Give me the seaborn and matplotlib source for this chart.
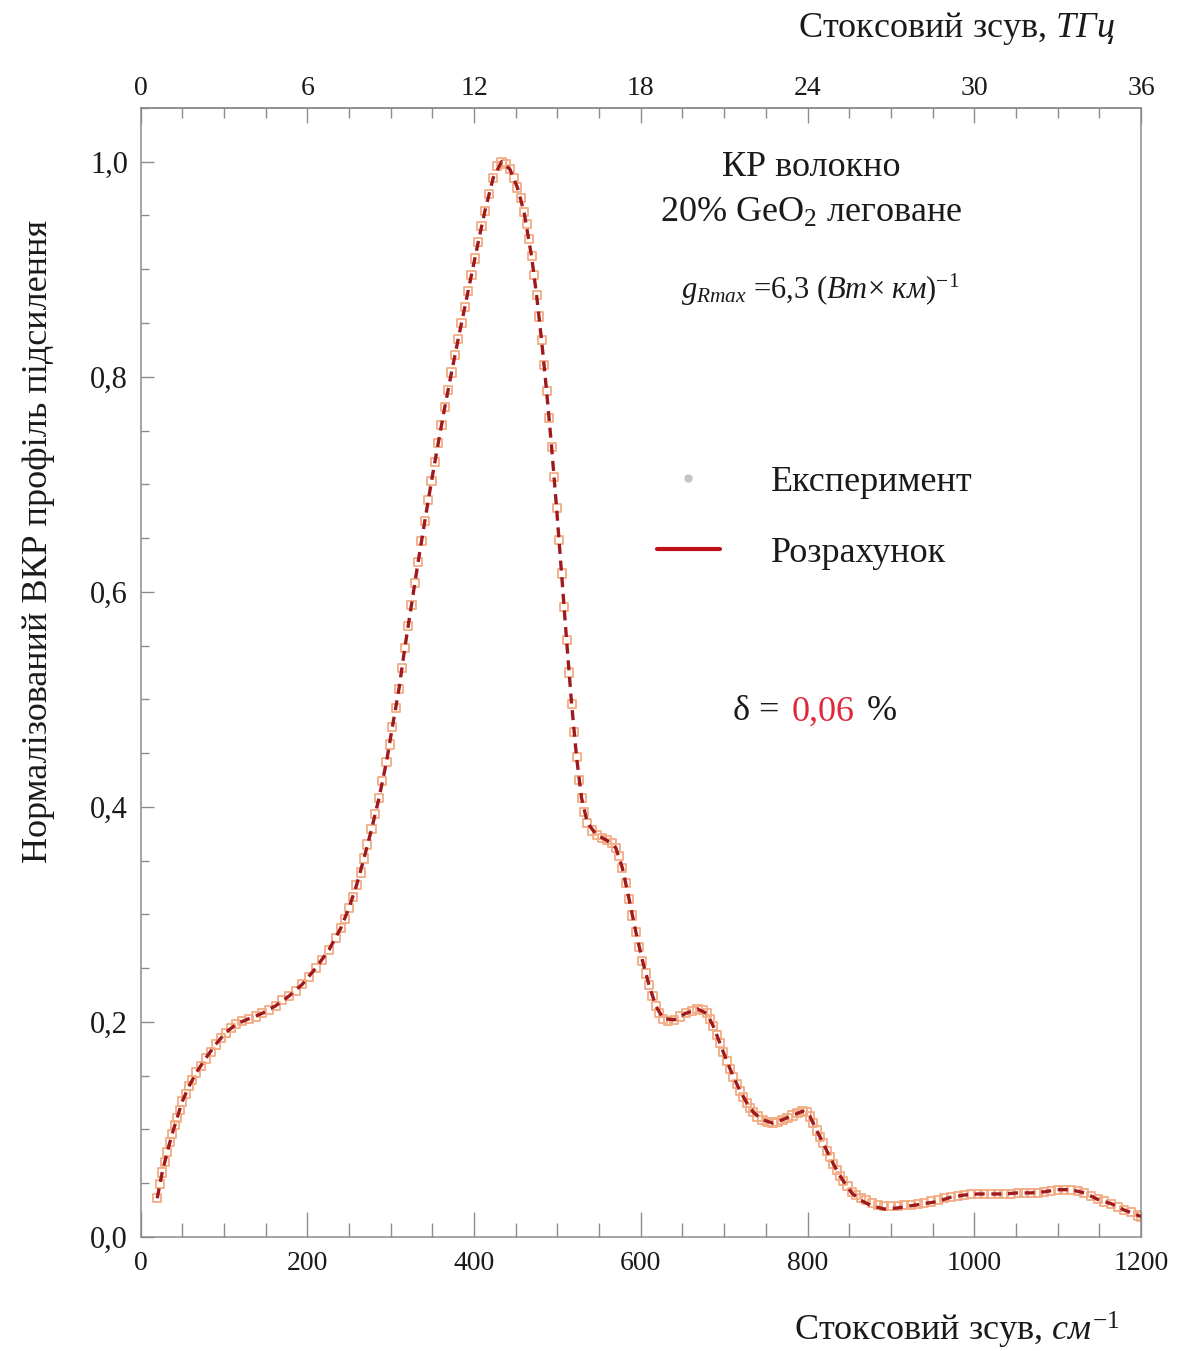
import matplotlib
matplotlib.use("Agg")
import matplotlib.pyplot as plt
from matplotlib.lines import Line2D
from matplotlib.ticker import MultipleLocator, FuncFormatter
from matplotlib.offsetbox import TextArea, HPacker, AnchoredOffsetbox
import seaborn as sns

# Measured normalised Raman gain profile (Stokes shift in cm^-1)
shift_exp = [20, 23, 26, 29, 32, 35, 38, 41, 44, 47, 50, 54, 58, 62, 67, 72, 78, 84, 90, 96,
             102, 108, 115, 122, 130, 138, 146, 154, 162, 170, 178, 186, 194, 202, 210, 218,
             226, 234, 240, 245, 250, 255, 259, 264, 268, 272, 277, 281, 286, 290, 295, 299,
             302, 306, 310, 314, 317, 321, 325, 329, 333, 337, 341, 345, 349, 353, 357, 361,
             365, 369, 373, 377, 381, 385, 389, 393, 397, 401, 405, 409, 413, 418, 423, 428,
             433, 438, 443, 448, 452, 456, 460, 463, 466, 469, 472, 475, 478, 481, 484, 487,
             490, 493, 496, 499, 502, 505, 508, 511, 514, 517, 520, 523, 526, 529, 532, 536,
             541, 547, 553, 559, 565, 570, 574, 578, 582, 586, 590, 594, 598, 602, 606, 610,
             614, 618, 622, 627, 633, 640, 647, 654, 661, 668, 674, 679, 683, 687, 691, 695,
             699, 703, 707, 711, 715, 719, 723, 727, 731, 735, 740, 746, 752, 758, 764, 770,
             776, 782, 788, 794, 799, 803, 807, 811, 815, 819, 823, 827, 831, 835, 839, 843,
             848, 853, 858, 864, 870, 877, 884, 892, 900, 908, 916, 924, 932, 940, 948, 956,
             964, 972, 980, 988, 996, 1004, 1012, 1020, 1028, 1036, 1044, 1052, 1060, 1068,
             1076, 1084, 1092, 1100, 1108, 1116, 1124, 1132, 1140, 1148, 1156, 1164, 1172,
             1180, 1188, 1196, 1200]
gain_exp = [0.036, 0.049, 0.060, 0.070, 0.079, 0.088, 0.096, 0.104, 0.111, 0.118, 0.126,
            0.133, 0.140, 0.146, 0.153, 0.159, 0.166, 0.172, 0.179, 0.185, 0.190, 0.194,
            0.198, 0.201, 0.203, 0.205, 0.208, 0.211, 0.215, 0.220, 0.224, 0.229, 0.235,
            0.242, 0.250, 0.258, 0.267, 0.278, 0.287, 0.296, 0.306, 0.316, 0.327, 0.339,
            0.352, 0.365, 0.379, 0.393, 0.408, 0.424, 0.442, 0.458, 0.474, 0.492, 0.510,
            0.529, 0.548, 0.568, 0.588, 0.608, 0.628, 0.647, 0.666, 0.685, 0.703, 0.721,
            0.738, 0.755, 0.772, 0.788, 0.804, 0.820, 0.835, 0.850, 0.865, 0.880, 0.895,
            0.910, 0.925, 0.940, 0.954, 0.970, 0.985, 0.996, 1.000, 0.998, 0.993, 0.985,
            0.976, 0.966, 0.953, 0.942, 0.928, 0.912, 0.895, 0.876, 0.856, 0.834, 0.811,
            0.787, 0.762, 0.735, 0.707, 0.678, 0.648, 0.617, 0.586, 0.555, 0.525, 0.496,
            0.470, 0.446, 0.425, 0.408, 0.395, 0.385, 0.378, 0.374, 0.371, 0.369, 0.366,
            0.362, 0.354, 0.343, 0.329, 0.314, 0.299, 0.284, 0.270, 0.257, 0.245, 0.234,
            0.224, 0.215, 0.208, 0.203, 0.201, 0.202, 0.205, 0.208, 0.210, 0.212, 0.211,
            0.208, 0.203, 0.196, 0.188, 0.180, 0.172, 0.164, 0.156, 0.149, 0.142, 0.136,
            0.130, 0.125, 0.120, 0.116, 0.112, 0.109, 0.107, 0.106, 0.107, 0.109, 0.111,
            0.113, 0.115, 0.117, 0.116, 0.112, 0.106, 0.099, 0.093, 0.087, 0.080, 0.074,
            0.068, 0.062, 0.057, 0.052, 0.047, 0.042, 0.039, 0.036, 0.034, 0.032, 0.030,
            0.029, 0.029, 0.029, 0.030, 0.030, 0.031, 0.032, 0.033, 0.034, 0.036, 0.037,
            0.038, 0.039, 0.040, 0.040, 0.040, 0.040, 0.040, 0.040, 0.040, 0.041, 0.041,
            0.041, 0.041, 0.042, 0.043, 0.044, 0.044, 0.044, 0.043, 0.041, 0.038, 0.035,
            0.033, 0.031, 0.028, 0.025, 0.023, 0.020, 0.019]

# Calculated (fitted) profile
shift_calc = [20, 26, 32, 38, 44, 50, 58, 67, 78, 90, 102, 115, 130, 146, 162, 178, 194, 210,
              226, 240, 250, 259, 268, 277, 286, 295, 302, 310, 317, 325, 333, 341, 349, 357,
              365, 373, 381, 389, 397, 405, 413, 423, 433, 443, 452, 460, 469, 475, 481, 487,
              493, 499, 505, 511, 517, 523, 529, 536, 547, 559, 570, 578, 586, 594, 602, 610,
              618, 627, 640, 654, 668, 679, 687, 695, 703, 711, 719, 727, 735, 746, 758, 770,
              782, 794, 803, 811, 819, 827, 835, 843, 853, 864, 877, 892, 908, 924, 940, 956,
              972, 988, 1004, 1020, 1036, 1052, 1068, 1084, 1100, 1116, 1132, 1148, 1164,
              1180, 1200]
gain_calc = [0.036, 0.060, 0.079, 0.096, 0.111, 0.126, 0.140, 0.153, 0.166, 0.179, 0.190,
             0.198, 0.203, 0.208, 0.215, 0.224, 0.235, 0.250, 0.267, 0.287, 0.306, 0.327,
             0.352, 0.379, 0.408, 0.442, 0.474, 0.510, 0.548, 0.588, 0.628, 0.666, 0.703,
             0.738, 0.772, 0.804, 0.835, 0.865, 0.895, 0.925, 0.954, 0.985, 1.000, 0.993,
             0.976, 0.953, 0.912, 0.876, 0.834, 0.787, 0.735, 0.678, 0.617, 0.555, 0.496,
             0.446, 0.408, 0.385, 0.374, 0.369, 0.362, 0.343, 0.314, 0.284, 0.257, 0.234,
             0.215, 0.203, 0.202, 0.208, 0.212, 0.208, 0.196, 0.180, 0.164, 0.149, 0.136,
             0.125, 0.116, 0.109, 0.106, 0.109, 0.113, 0.117, 0.112, 0.099, 0.087, 0.074,
             0.062, 0.052, 0.041, 0.034, 0.029, 0.026, 0.027, 0.029, 0.031, 0.033, 0.037,
             0.039, 0.040, 0.040, 0.040, 0.041, 0.041, 0.042, 0.044, 0.044, 0.041, 0.035,
             0.031, 0.025, 0.019]

x_ticks = [0, 200, 400, 600, 800, 1000, 1200]
thz_ticks = [0, 6, 12, 18, 24, 30, 36]
y_ticks = [0.0, 0.2, 0.4, 0.6, 0.8, 1.0]
legend_labels = ["Експеримент", "Розрахунок"]

sns.set_theme(style="white")
plt.rcParams["font.family"] = ["Liberation Serif", "DejaVu Serif"]
plt.rcParams["mathtext.fontset"] = "custom"
plt.rcParams["mathtext.rm"] = "Liberation Serif"
plt.rcParams["mathtext.it"] = "Liberation Serif:italic"
plt.rcParams["mathtext.bf"] = "Liberation Serif:bold"

TEXT = "#1a1a1a"
AXIS = "#8c8c8c"
MARKER = "#f2ab82"
LINE = "#9e1a1e"

fig = plt.figure(figsize=(11.84, 13.51), dpi=100)
ax = fig.add_axes([0.1187, 0.0844, 0.8450, 0.8357])

sns.scatterplot(x=shift_exp, y=gain_exp, ax=ax, marker="s", s=34,
                facecolor="none", edgecolor=MARKER, linewidth=1.3, zorder=2)
sns.lineplot(x=shift_calc, y=gain_calc, ax=ax, sort=False, color=LINE,
             linewidth=2.4, linestyle=(0, (3, 2)), zorder=3)

ax.set_xlim(0, 1200)
ax.set_ylim(0, 1.05)

for side in ["left", "right", "top", "bottom"]:
    ax.spines[side].set_color(AXIS)
    ax.spines[side].set_linewidth(1.1)

ax.set_xticks(x_ticks)
ax.xaxis.set_minor_locator(MultipleLocator(50))
ax.set_yticks(y_ticks)
ax.yaxis.set_minor_locator(MultipleLocator(0.05))
ax.yaxis.set_major_formatter(FuncFormatter(lambda v, p: f"{v:.1f}".replace(".", ",")))

ax.tick_params(axis="x", which="major", direction="in", length=18, width=1.0,
               color=AXIS, labelsize=20, labelcolor=TEXT, pad=10, top=False, bottom=True)
ax.tick_params(axis="x", which="minor", direction="in", length=10, width=1.0,
               color=AXIS, top=False, bottom=True)
ax.tick_params(axis="y", which="major", direction="in", length=9, width=1.0,
               color=AXIS, labelsize=22, labelcolor=TEXT, pad=9, left=True, right=False)
ax.tick_params(axis="y", which="minor", direction="in", length=6, width=1.0,
               color=AXIS, left=True, right=False)

# Top axis: the same shift expressed in THz
secax = ax.secondary_xaxis("top", functions=(lambda x: x * 0.03, lambda t: t / 0.03))
secax.set_xticks(thz_ticks)
secax.xaxis.set_minor_locator(MultipleLocator(1.5))
secax.spines["top"].set_color(AXIS)
secax.spines["top"].set_linewidth(1.1)
secax.tick_params(axis="x", which="major", direction="in", length=11, width=1.0,
                  color=AXIS, labelsize=20, labelcolor=TEXT, pad=5)
secax.tick_params(axis="x", which="minor", direction="in", length=7, width=1.0, color=AXIS)

ax.set_xlabel("")
ax.set_ylabel("Нормалізований ВКР профіль підсилення", fontsize=26, color=TEXT)
ax.yaxis.set_label_coords(-0.085, 0.616)

fig.text(0.946, 0.0155, r"Стоксовий зсув, $\mathit{см}^{-1}$", ha="right", va="center",
         fontsize=26, color=TEXT)
fig.text(0.942, 0.979, r"Стоксовий зсув, $\mathit{ТГц}$", ha="right", va="center",
         fontsize=26, color=TEXT)

ax.text(0.670, 0.947, "КР волокно", transform=ax.transAxes, ha="center", va="center",
        fontsize=26, color=TEXT)
ax.text(0.670, 0.907, r"20% GeO$_2$ леговане", transform=ax.transAxes, ha="center",
        va="center", fontsize=26, color=TEXT)
ax.text(0.679, 0.839, r"$g_{Rmax}$ =6,3 ($\mathit{Вт}$× $\mathit{км}$)$^{-1}$",
        transform=ax.transAxes, ha="center", va="center", fontsize=22, color=TEXT)

delta_box = HPacker(children=[
    TextArea("δ =", textprops=dict(fontsize=26, color=TEXT)),
    TextArea("0,06", textprops=dict(fontsize=26, color="#e0283a")),
    TextArea("%", textprops=dict(fontsize=26, color=TEXT)),
], align="baseline", pad=0, sep=9)
ax.add_artist(AnchoredOffsetbox(loc="center", child=delta_box, frameon=False,
                                bbox_to_anchor=(0.674, 0.465),
                                bbox_transform=ax.transAxes, borderpad=0, pad=0))

handles = [Line2D([], [], marker="o", linestyle="none", color="#c4c4c4", markersize=5),
           Line2D([], [], color="#c01018", linewidth=3)]
ax.legend(handles, legend_labels, loc="center left", bbox_to_anchor=(0.516, 0.637),
          frameon=False, fontsize=26, handlelength=1.75, handletextpad=1.4,
          labelspacing=1.05, borderpad=0, borderaxespad=0, labelcolor=TEXT)

fig.savefig("out.png", dpi=100, facecolor="white")
